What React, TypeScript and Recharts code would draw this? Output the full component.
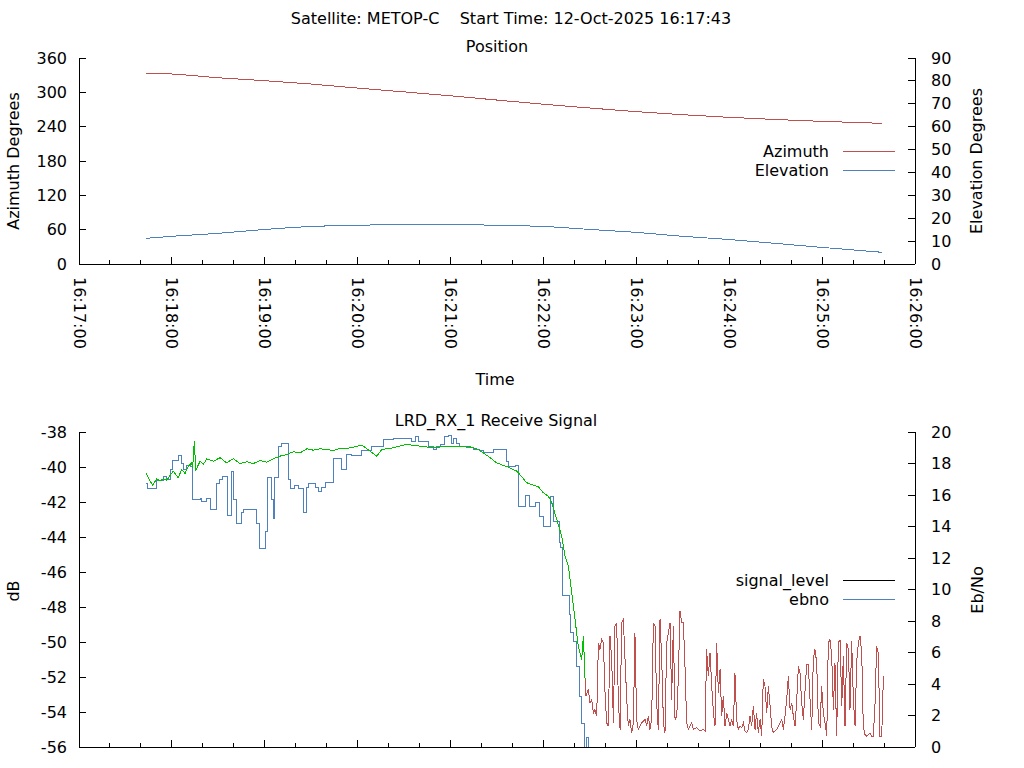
import { Line, LineChart, XAxis, YAxis } from "recharts";

const FONT = "'DejaVu Sans', sans-serif";
const RED = "#c0504d";
const BLUE = "#4f81bd";
const GREEN = "#00c000";

// seconds after 16:17:00
const TIME_TICKS = [
  0, 20, 40, 60, 80, 100, 120, 140, 160, 180, 200, 220, 240, 260, 280, 300, 320, 340, 360, 380, 400,
  420, 440, 460, 480, 500, 520, 540,
];
const TIME_LABELS: Record<number, string> = {
  0: "16:17:00",
  60: "16:18:00",
  120: "16:19:00",
  180: "16:20:00",
  240: "16:21:00",
  300: "16:22:00",
  360: "16:23:00",
  420: "16:24:00",
  480: "16:25:00",
  540: "16:26:00",
};

const AZ_TICKS = [0, 60, 120, 180, 240, 300, 360];
const EL_TICKS = [0, 10, 20, 30, 40, 50, 60, 70, 80, 90];
const DB_TICKS = [-56, -54, -52, -50, -48, -46, -44, -42, -40, -38];
const EBNO_TICKS = [0, 2, 4, 6, 8, 10, 12, 14, 16, 18, 20];

const POS_TIMES = [43, 60, 90, 120, 150, 180, 210, 240, 270, 300, 330, 360, 390, 420, 450, 480, 519];
const AZIMUTH = [
  333.8, 332.0, 325.5, 320.3, 314.5, 307.4, 300.8, 293.9, 286.5, 279.2, 272.6, 266.3, 260.9, 256.3, 252.5,
  249.3, 245.8,
];
const ELEVATION = [11.2, 12.1, 13.4, 15.1, 16.4, 16.9, 17.3, 17.3, 16.9, 16.4, 15.1, 13.8, 12.1, 10.7, 9.0, 7.25, 5.1];

// signal_level while locked (dB)
const SIGNAL_LOCKED: [number, number][] = [
  [43.3, -40.37], [47.6, -41.06], [50.2, -40.66], [52.3, -40.81], [54.5, -40.67], [56.7, -40.75],
  [58.8, -40.49], [60.9, -40.24], [64.1, -40.62], [66.3, -40.14], [68.5, -40.37], [70.6, -39.95],
  [72.8, -39.76], [73.4, -40.05], [74.5, -38.49], [75.4, -40.2], [78.2, -39.67], [80.3, -39.86],
  [82.5, -39.53], [86.8, -39.67], [91.1, -39.47], [95.4, -39.76], [99.7, -39.53], [104.0, -39.8],
  [108.3, -39.7], [112.6, -39.8], [116.9, -39.63], [121.3, -39.73], [125.5, -39.53], [129.8, -39.38],
  [134.2, -39.29], [138.4, -39.13], [142.8, -39.19], [147.1, -38.96], [151.4, -39.04], [155.7, -38.96],
  [160.0, -39.0], [164.3, -39.06], [168.6, -38.93], [172.9, -38.94], [177.2, -38.87], [181.5, -38.77],
  [183.7, -38.81], [188.0, -39.1], [192.3, -39.38], [195.5, -39.0], [203.0, -38.9], [211.7, -38.71],
  [220.3, -38.81], [228.9, -38.9], [237.5, -38.81], [246.1, -38.81], [252.6, -38.85], [256.9, -38.96],
  [261.2, -39.19], [265.5, -39.47], [269.8, -39.76], [274.1, -39.91], [278.4, -40.05], [282.8, -40.24],
  [286.0, -40.56], [289.2, -40.9], [292.4, -41.0], [296.7, -41.13], [299.9, -41.47], [303.2, -41.67],
  [305.4, -42.05], [308.6, -43.0], [311.8, -43.95], [313.9, -45.1], [316.1, -45.67], [318.3, -47.19],
  [320.4, -48.71], [322.5, -50.24], [324.7, -51.0], [325.8, -49.67], [326.9, -52.14],
];

// signal_level after lock loss (dB)
const SIGNAL_UNLOCKED: [number, number][] = [
  [326.9, -52.14], [327.5, -53.1], [329.0, -52.71], [330.1, -53.48], [331.2, -53.29], [332.2, -54.05],
  [333.3, -53.86], [334.4, -54.24], [335.5, -50.05], [336.5, -50.43], [337.6, -49.86], [338.7, -50.05],
  [339.8, -52.9], [340.8, -54.62], [341.9, -54.81], [343.0, -49.67], [344.1, -51.0], [345.2, -54.62],
  [346.2, -49.1], [347.3, -48.9], [348.4, -53.48], [349.5, -55.0], [350.5, -48.9], [351.6, -48.71],
  [352.7, -51.0], [353.8, -53.29], [354.8, -54.81], [355.9, -54.43], [357.0, -55.19], [358.1, -54.62],
  [359.1, -49.48], [360.2, -54.43], [361.3, -55.0], [362.4, -54.81], [363.5, -54.62], [365.6, -54.43],
  [366.7, -54.81], [367.8, -54.24], [368.8, -55.0], [369.9, -54.43], [371.0, -48.9], [372.1, -49.1],
  [373.1, -53.48], [374.2, -55.0], [375.3, -48.71], [376.4, -51.0], [377.5, -54.62], [378.5, -55.19],
  [379.6, -50.05], [380.7, -49.48], [381.8, -48.9], [382.8, -53.29], [383.9, -49.1], [385.0, -54.43],
  [386.1, -54.24], [387.1, -52.14], [388.2, -48.24], [389.3, -48.9], [390.4, -48.9], [391.5, -51.57],
  [392.5, -54.62], [393.6, -55.0], [394.7, -54.81], [395.8, -54.62], [396.8, -55.0], [399.0, -54.9],
  [401.1, -55.09], [403.3, -55.0], [404.4, -55.09], [405.4, -50.43], [406.5, -51.95], [407.6, -50.62],
  [408.7, -52.52], [409.8, -54.05], [410.8, -54.81], [411.9, -50.05], [413.0, -52.9], [414.1, -51.57],
  [415.1, -54.24], [416.2, -53.1], [417.3, -54.81], [418.4, -54.05], [419.4, -54.43], [420.5, -54.81],
  [421.6, -54.43], [422.7, -54.81], [423.7, -51.76], [424.8, -54.43], [425.9, -55.0], [427.0, -54.81],
  [428.1, -54.9], [429.1, -54.62], [430.2, -55.09], [431.3, -55.19], [432.4, -55.0], [433.4, -54.24],
  [434.5, -54.81], [435.6, -53.67], [436.7, -55.0], [437.7, -54.05], [438.8, -55.19], [439.9, -54.43],
  [441.0, -55.38], [442.0, -52.14], [443.1, -52.52], [444.2, -54.05], [445.3, -52.52], [446.4, -53.67],
  [447.4, -54.81], [448.5, -55.19], [449.6, -55.09], [450.7, -55.0], [451.7, -54.81], [452.8, -54.62],
  [453.9, -54.43], [455.0, -55.0], [456.0, -54.24], [457.1, -53.29], [458.2, -51.95], [459.3, -53.86],
  [460.4, -53.48], [461.4, -54.24], [462.5, -54.81], [463.6, -53.29], [464.7, -51.38], [465.7, -51.76],
  [466.8, -53.48], [467.9, -54.43], [469.0, -52.71], [470.0, -51.29], [471.1, -51.29], [472.2, -53.29],
  [473.3, -55.0], [474.3, -51.0], [475.4, -50.43], [476.5, -51.19], [477.6, -54.62], [478.7, -54.81],
  [479.7, -52.52], [480.8, -54.05], [481.9, -54.62], [483.0, -55.38], [484.0, -50.05], [485.1, -49.86],
  [486.2, -50.81], [487.3, -53.86], [488.3, -51.19], [489.4, -55.38], [490.5, -50.05], [491.6, -49.86],
  [492.7, -53.67], [493.7, -50.81], [494.8, -54.81], [495.9, -50.05], [497.0, -50.43], [498.0, -53.86],
  [499.1, -49.95], [500.2, -53.29], [501.3, -54.81], [502.3, -51.19], [503.4, -50.05], [504.5, -49.67],
  [505.6, -50.62], [506.6, -54.81], [507.7, -55.29], [508.8, -55.38], [509.9, -55.29], [510.9, -55.19],
  [512.0, -55.38], [513.1, -55.38], [514.2, -53.48], [515.2, -50.24], [516.3, -50.62], [517.4, -55.38],
  [518.5, -55.38], [519.6, -51.95],
];

// Eb/No, drawn as steps
const EBNO: [number, number][] = [
  [43.3, 16.7], [44.1, 16.4], [50.2, 16.9], [54.5, 17.2], [56.6, 17.0], [59.2, 17.6], [60.5, 18.2],
  [64.2, 18.5], [66.3, 18.0], [67.8, 17.6], [69.6, 17.9], [72.1, 17.8], [73.4, 15.7], [78.2, 15.8],
  [79.2, 15.6], [82.5, 15.8], [85.1, 15.1], [88.9, 16.7], [90.7, 17.0], [92.8, 17.2], [96.0, 14.7],
  [98.6, 17.5], [100.1, 15.7], [101.9, 14.2], [105.1, 14.9], [106.2, 15.1], [114.8, 14.2], [116.9, 12.6],
  [120.2, 13.7], [121.7, 17.1], [124.5, 15.7], [125.5, 14.5], [126.0, 17.1], [128.8, 19.1], [130.9, 19.3],
  [135.2, 17.0], [136.3, 16.4], [139.5, 16.6], [141.7, 16.4], [144.9, 14.9], [147.1, 16.5], [148.1, 16.7],
  [152.5, 16.5], [154.6, 16.2], [156.8, 16.5], [158.9, 16.8], [164.3, 18.3], [169.7, 17.6], [172.9, 18.6],
  [176.1, 18.5], [182.6, 18.8], [189.1, 19.1], [196.6, 19.5], [203.1, 19.6], [214.9, 19.4], [217.1, 19.7],
  [219.2, 19.4], [225.6, 19.1], [228.9, 18.9], [231.1, 19.1], [233.2, 19.2], [236.4, 19.7], [238.6, 19.8],
  [240.8, 19.3], [241.8, 19.6], [244.0, 19.3], [246.1, 19.1], [250.4, 19.0], [254.7, 18.9], [259.0, 18.8],
  [261.2, 18.7], [267.6, 18.9], [276.3, 18.1], [277.3, 17.8], [281.7, 17.9], [283.8, 15.3], [288.1, 16.0],
  [290.9, 15.3], [294.6, 15.5], [297.4, 14.65], [299.9, 14.0], [304.5, 15.9], [306.8, 14.3], [310.3, 13.0],
  [311.2, 12.65], [312.5, 9.6], [316.7, 8.4], [317.6, 7.25], [319.3, 6.7], [321.5, 5.1], [323.2, 3.2],
  [324.7, 1.5], [326.2, -1], [327.5, 0.6], [329.0, -1],
];

const toRows = (pairs: [number, number][]) => pairs.map(([t, v]) => ({ t, v }));
const azimuthRows = POS_TIMES.map((t, i) => ({ t, v: AZIMUTH[i] }));
const elevationRows = POS_TIMES.map((t, i) => ({ t, v: ELEVATION[i] }));

function TimeTick(props: any) {
  const { x, y, payload, side, labels } = props;
  const major = payload.value % 60 === 0;
  const len = major ? 7 : 4;
  const dir = side === "top" ? 1 : -1;
  return (
    <g>
      <line x1={x} y1={y} x2={x} y2={y + dir * len} stroke="#000" shapeRendering="crispEdges" />
      {labels && major && (
        <text
          x={x}
          y={y + 13}
          transform={`rotate(90 ${x} ${y + 13})`}
          fontSize={16}
          fontFamily={FONT}
          fill="#000"
          dominantBaseline="central"
        >
          {TIME_LABELS[payload.value]}
        </text>
      )}
    </g>
  );
}

function ValueTick(props: any) {
  const { x, y, payload, side } = props;
  const left = side === "left";
  return (
    <g>
      <line x1={x} y1={y} x2={x + (left ? 7 : -7)} y2={y} stroke="#000" shapeRendering="crispEdges" />
      <text
        x={left ? x - 12 : x + 16}
        y={y}
        dy="0.35em"
        textAnchor={left ? "end" : "start"}
        fontSize={16}
        fontFamily={FONT}
        fill="#000"
      >
        {payload.value}
      </text>
    </g>
  );
}

function Txt({ x, y, rotate, children }: { x: number; y: number; rotate?: boolean; children: string }) {
  return (
    <div
      style={{
        position: "absolute",
        left: x,
        top: y,
        transform: `translate(-50%, -50%)${rotate ? " rotate(-90deg)" : ""}`,
        whiteSpace: "pre",
        fontSize: 16,
        lineHeight: "normal",
      }}
    >
      {children}
    </div>
  );
}

function LegendRow({ y, label, color }: { y: number; label: string; color: string }) {
  return (
    <>
      <div
        style={{
          position: "absolute",
          right: 1024 - 829,
          top: y,
          transform: "translateY(-50%)",
          whiteSpace: "nowrap",
          fontSize: 16,
          lineHeight: "normal",
        }}
      >
        {label}
      </div>
      <div style={{ position: "absolute", left: 843, top: y, width: 52, height: 1, background: color }} />
    </>
  );
}

const axisLine = { stroke: "#000", shapeRendering: "crispEdges" };

export default function App() {
  return (
    <div
      style={{
        position: "absolute",
        left: 0,
        top: 0,
        width: 1024,
        height: 768,
        background: "#fff",
        color: "#000",
        fontFamily: FONT,
        overflow: "hidden",
      }}
    >
      <div style={{ position: "absolute", left: 0, top: 0 }}>
        <LineChart width={1024} height={400} margin={{ top: 58, right: 0, bottom: 0, left: 0 }}>
          <XAxis
            xAxisId="b"
            dataKey="t"
            type="number"
            domain={[0, 540]}
            ticks={TIME_TICKS}
            interval={0}
            height={136}
            tickSize={0}
            tickMargin={0}
            tickLine={false}
            axisLine={axisLine}
            tick={(p: any) => <TimeTick {...p} side="bottom" labels />}
          />
          <XAxis
            xAxisId="t"
            orientation="top"
            dataKey="t"
            type="number"
            domain={[0, 540]}
            ticks={TIME_TICKS}
            interval={0}
            height={0}
            tickSize={0}
            tickMargin={0}
            tickLine={false}
            axisLine={axisLine}
            tick={(p: any) => <TimeTick {...p} side="top" />}
          />
          <YAxis
            yAxisId="az"
            type="number"
            domain={[0, 360]}
            ticks={AZ_TICKS}
            interval={0}
            width={79}
            tickSize={0}
            tickMargin={0}
            tickLine={false}
            axisLine={axisLine}
            tick={(p: any) => <ValueTick {...p} side="left" />}
          />
          <YAxis
            yAxisId="el"
            orientation="right"
            type="number"
            domain={[0, 90]}
            ticks={EL_TICKS}
            interval={0}
            width={109}
            tickSize={0}
            tickMargin={0}
            tickLine={false}
            axisLine={axisLine}
            tick={(p: any) => <ValueTick {...p} side="right" />}
          />
          <Line
            xAxisId="b"
            yAxisId="az"
            data={azimuthRows}
            dataKey="v"
            type="monotone"
            stroke={RED}
            strokeWidth={1}
            shapeRendering="crispEdges"
            dot={false}
            isAnimationActive={false}
          />
          <Line
            xAxisId="b"
            yAxisId="el"
            data={elevationRows}
            dataKey="v"
            type="monotone"
            stroke={BLUE}
            strokeWidth={1}
            shapeRendering="crispEdges"
            dot={false}
            isAnimationActive={false}
          />
        </LineChart>
      </div>

      <div style={{ position: "absolute", left: 0, top: 400 }}>
        <LineChart width={1024} height={368} margin={{ top: 32, right: 0, bottom: 0, left: 0 }}>
          <XAxis
            xAxisId="b"
            dataKey="t"
            type="number"
            domain={[0, 540]}
            ticks={TIME_TICKS}
            interval={0}
            height={21}
            tickSize={0}
            tickMargin={0}
            tickLine={false}
            axisLine={axisLine}
            tick={(p: any) => <TimeTick {...p} side="bottom" />}
          />
          <XAxis
            xAxisId="t"
            orientation="top"
            dataKey="t"
            type="number"
            domain={[0, 540]}
            ticks={TIME_TICKS}
            interval={0}
            height={0}
            tickSize={0}
            tickMargin={0}
            tickLine={false}
            axisLine={axisLine}
            tick={(p: any) => <TimeTick {...p} side="top" />}
          />
          <YAxis
            yAxisId="db"
            type="number"
            domain={[-56, -38]}
            ticks={DB_TICKS}
            interval={0}
            width={79}
            tickSize={0}
            tickMargin={0}
            tickLine={false}
            axisLine={axisLine}
            allowDataOverflow
            tick={(p: any) => <ValueTick {...p} side="left" />}
          />
          <YAxis
            yAxisId="ebno"
            orientation="right"
            type="number"
            domain={[0, 20]}
            ticks={EBNO_TICKS}
            interval={0}
            width={109}
            tickSize={0}
            tickMargin={0}
            tickLine={false}
            axisLine={axisLine}
            allowDataOverflow
            tick={(p: any) => <ValueTick {...p} side="right" />}
          />
          <Line
            xAxisId="b"
            yAxisId="ebno"
            data={toRows(EBNO)}
            dataKey="v"
            type="stepAfter"
            stroke={BLUE}
            strokeWidth={1}
            shapeRendering="crispEdges"
            dot={false}
            isAnimationActive={false}
          />
          <Line
            xAxisId="b"
            yAxisId="db"
            data={toRows(SIGNAL_LOCKED)}
            dataKey="v"
            type="linear"
            stroke={GREEN}
            strokeWidth={1}
            shapeRendering="crispEdges"
            dot={false}
            isAnimationActive={false}
          />
          <Line
            xAxisId="b"
            yAxisId="db"
            data={toRows(SIGNAL_UNLOCKED)}
            dataKey="v"
            type="linear"
            stroke={RED}
            strokeWidth={1}
            shapeRendering="crispEdges"
            dot={false}
            isAnimationActive={false}
          />
        </LineChart>
      </div>

      <Txt x={511} y={18}>{"Satellite: METOP-C    Start Time: 12-Oct-2025 16:17:43"}</Txt>
      <Txt x={497} y={46}>Position</Txt>
      <Txt x={495} y={379}>Time</Txt>
      <Txt x={13} y={161} rotate>Azimuth Degrees</Txt>
      <Txt x={976} y={161} rotate>Elevation Degrees</Txt>
      <LegendRow y={151} label="Azimuth" color={RED} />
      <LegendRow y={170} label="Elevation" color={BLUE} />

      <Txt x={496} y={420}>LRD_RX_1 Receive Signal</Txt>
      <Txt x={13} y={591} rotate>dB</Txt>
      <Txt x={977} y={590} rotate>Eb/No</Txt>
      <LegendRow y={580} label="signal_level" color="#000" />
      <LegendRow y={599} label="ebno" color={BLUE} />
    </div>
  );
}
